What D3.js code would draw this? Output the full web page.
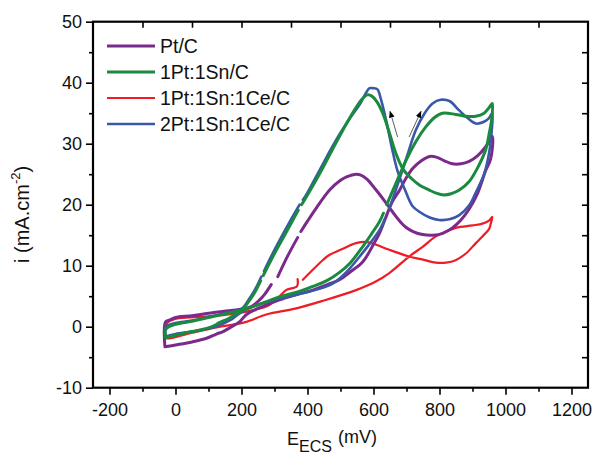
<!DOCTYPE html>
<html lang="en">
<head>
<meta charset="UTF-8">
<title>CV curves</title>
<script src="https://cdn.jsdelivr.net/npm/d3@7"></script>
<style>
  body { margin: 0; background: #fff; }
  text { font-family: Arial, "Liberation Sans", sans-serif; fill: #111; }
  .axis path { display: none; }
  .axis line { stroke: #000; stroke-width: 1.6px; }
  .axis text { font-size: 18px; }
</style>
</head>
<body>
<div id="chart"></div>
<script>
// series names + colours
var seriesNames = ["Pt/C", "1Pt:1Sn/C", "1Pt:1Sn:1Ce/C", "2Pt:1Sn:1Ce/C"];
var seriesColors = ["#7b2a8c", "#1a8a3e", "#ee1c25", "#3a58a8"];
var seriesWidths = [3, 3, 2.2, 2.6];

// each loop: [E (mV), i (mA/cm2)], null = gap in the trace
var ptC = [
  [-32,-3.3],[0,-3.0],[50,-2.5],[94,-1.9],[124,-1.2],[144,-0.8],[170,0],[194,0.8],[215,2.0],[250,3.0],
  [315,4.4],[370,5.3],[416,6.0],[460,6.9],[497,7.7],[530,9.0],[567,10.6],[600,13.5],[618,15.3],[640,18.3],
  [658,20.6],[678,22.3],[698,24.3],[720,26.0],[745,27.2],[770,27.9],[790,27.8],[815,27.2],[839,26.7],
  [865,26.7],[890,27.1],[915,28.0],[940,29.5],[960,31.2],
  [955,27.5],[940,25.6],[915,21.8],[890,19.3],[865,17.5],[839,16.2],[810,15.3],[780,15.0],[749,15.1],
  [720,15.6],[698,16.3],[678,17.4],[658,18.8],[635,20.5],[608,22.4],[580,24.2],[560,24.9],[547,25.0],[520,24.6],
  [500,24.0],[467,22.4],[426,19.4],[400,17.3],[380,15.6],null,[370,14.6],[340,11.6],[310,8.2],null,
  [290,6.9],[270,5.3],[255,4.4],[230,3.3],[200,2.9],[174,2.7],[100,2.2],[50,1.8],[0,1.5],[-17,1.1],
  [-30,0.8],[-32,-3.3]
];
var ptSnC = [
  [-30,-1.8],[0,-1.4],[50,-0.8],[100,-0.2],[125,0.4],[130,0.6],[160,1.3],[194,2.4],[250,3.6],[315,4.9],
  [370,5.7],[416,6.6],[460,7.6],[497,8.9],[530,10.5],[567,13.1],[595,15.3],[618,17.2],[630,18.6],null,
  [640,20.0],[668,23.5],[698,27.2],[730,30.5],[759,32.8],[785,34.3],[809,35.0],[849,34.8],[880,34.5],
  [910,34.5],[935,35.0],[950,35.9],[960,36.6],
  [958,34.0],[950,31.5],[940,29.0],[915,26.0],[890,23.8],[860,22.4],[835,21.8],[814,21.6],[790,21.9],
  [769,22.4],[740,23.2],[715,24.3],[690,25.8],[668,28.4],[648,31.8],[628,35.0],[610,36.9],[595,37.8],
  [582,38.0],[565,37.3],[540,35.3],[510,32.5],[476,29.1],[440,25.4],[400,21.6],[382,20.0],null,
  [372,19.1],[346,16.5],[300,12.0],[266,8.4],null,[258,7.5],[240,5.6],[220,4.0],[200,2.8],
  [150,2.1],[100,1.5],[50,0.9],[0,0.4],[-20,0],[-30,-0.5],[-30,-1.8]
];
var ptSnCeC = [
  [-30,-1.9],[-17,-1.9],[50,-1.0],[124,-0.1],[170,0.3],[215,0.8],[275,2.0],[366,3.0],[450,4.3],[547,6.0],
  [600,7.2],[648,8.8],[708,11.5],[749,13.1],[789,14.8],[849,16.2],[900,16.6],[930,16.9],[950,17.4],[960,18.0],
  [955,16.8],[950,16.0],[930,14.8],[910,13.7],[880,12.0],[849,10.9],[820,10.5],[789,10.5],[750,11.0],
  [708,11.5],[648,12.6],[600,13.6],[577,13.9],[547,13.7],[500,12.6],[467,11.8],[446,10.9],[410,9.0],
  [386,7.7],null,[370,7.8],[368,6.6],[335,6.0],[305,4.4],[275,3.3],[250,2.9],[225,2.6],[174,2.1],
  [100,1.7],[13,1.4],[-10,1.1],[-30,0.3],[-30,-1.9]
];
var pt2SnCeC = [
  [-30,-1.6],[0,-1.2],[50,-0.8],[100,-0.3],[130,0.2],[170,1.2],[200,2.4],[250,3.6],[315,4.6],[370,5.3],
  [436,6.2],[480,7.2],[517,8.9],[555,11.3],[587,13.5],[620,16.0],[634,17.6],null,[648,19.4],[670,22.8],
  [700,27.7],[728,32.2],[755,35.0],[779,36.6],[804,37.2],[830,37.0],[859,35.5],[885,34.2],[910,33.3],
  [935,33.6],[950,34.2],[960,35.0],
  [958,32.0],[950,28.4],[935,25.0],[910,22.0],[890,19.9],[860,18.3],[830,17.6],[799,17.5],[770,17.9],
  [740,18.8],[718,19.8],[695,22.5],[673,25.5],[655,29.5],[638,33.9],[622,37.4],[612,38.9],[600,39.1],
  [588,39.1],[578,38.4],[560,36.6],[530,34.3],[500,31.8],[476,29.6],[440,26.0],[396,21.6],[386,20.8],null,
  [376,20.0],[346,17.2],[300,12.6],[268,9.1],null,[260,8.2],[240,6.0],[220,4.3],[200,2.9],[150,2.2],
  [100,1.6],[50,1.0],[0,0.6],[-20,0.3],[-30,0],[-30,-1.6]
];
var seriesData = [ptC, ptSnC, ptSnCeC, pt2SnCeC];
var drawOrder = [2, 0, 3, 1];

// scan direction arrows [from, to]
var arrows = [
  [[673,31.1],[650,35.3]],
  [[708,31.1],[744,35.3]]
];

var xMajor = [-200, 0, 200, 400, 600, 800, 1000, 1200];
var xMinor = [-100, 100, 300, 500, 700, 900, 1100];
var yMajor = [-10, 0, 10, 20, 30, 40, 50];
var yMinor = [-5, 5, 15, 25, 35, 45];
var xTopTicks = [-100, 50, 200, 350, 500, 650, 800, 950, 1100];
var yRightTicks = [-5, 0, 5, 10, 15, 20, 25, 30, 35, 40, 45];

var W = 597, H = 456;
var L = 93, R = 588, T = 21.7, B = 387.7;

var svg = d3.select("#chart").append("svg")
  .attr("width", W).attr("height", H);

var x = d3.scaleLinear().domain([-250, 1250]).range([L, R]);
var y = d3.scaleLinear().domain([-10, 50]).range([B, T]);

// axes
svg.append("g").attr("class", "axis")
  .attr("transform", "translate(0," + B + ")")
  .call(d3.axisBottom(x).tickValues(xMajor).tickSize(7).tickPadding(9).tickFormat(d3.format("d")));
svg.append("g").attr("class", "axis")
  .attr("transform", "translate(0," + B + ")")
  .call(d3.axisBottom(x).tickValues(xMinor).tickSize(4).tickFormat(""));
svg.append("g").attr("class", "axis")
  .attr("transform", "translate(" + L + ",0)")
  .call(d3.axisLeft(y).tickValues(yMajor).tickSize(7).tickPadding(4).tickFormat(d3.format("d")));
svg.append("g").attr("class", "axis")
  .attr("transform", "translate(" + L + ",0)")
  .call(d3.axisLeft(y).tickValues(yMinor).tickSize(4).tickFormat(""));
svg.append("g").attr("class", "axis")
  .attr("transform", "translate(0," + T + ")")
  .call(d3.axisTop(x).tickValues(xTopTicks).tickSize(-6).tickFormat(""));
svg.append("g").attr("class", "axis")
  .attr("transform", "translate(" + R + ",0)")
  .call(d3.axisRight(y).tickValues(yRightTicks).tickSize(-6).tickFormat(""));

svg.selectAll(".axis text").text(function () {
  return this.textContent.replace("\u2212", "-");
});

// curves
var line = d3.line()
  .defined(function (d) { return d !== null; })
  .x(function (d) { return x(d[0]); })
  .y(function (d) { return y(d[1]); })
  .curve(d3.curveCatmullRom.alpha(0.5));

var curves = svg.append("g");
drawOrder.forEach(function (k) {
  curves.append("path")
    .datum(seriesData[k])
    .attr("fill", "none")
    .attr("stroke", seriesColors[k])
    .attr("stroke-width", seriesWidths[k])
    .attr("stroke-linejoin", "round")
    .attr("stroke-linecap", "round")
    .attr("d", line);
});

// frame
svg.append("rect")
  .attr("x", L).attr("y", T)
  .attr("width", R - L).attr("height", B - T)
  .attr("fill", "none").attr("stroke", "#000").attr("stroke-width", 2.2);

// arrows
svg.append("defs").append("marker")
  .attr("id", "ah").attr("viewBox", "0 0 10 10")
  .attr("refX", 9).attr("refY", 5)
  .attr("markerWidth", 7).attr("markerHeight", 7)
  .attr("markerUnits", "userSpaceOnUse")
  .attr("orient", "auto")
  .append("path").attr("d", "M0,1 L10,5 L0,9 Z").attr("fill", "#000");

svg.append("g").selectAll("line")
  .data(arrows).enter().append("line")
  .attr("x1", function (d) { return x(d[0][0]); })
  .attr("y1", function (d) { return y(d[0][1]); })
  .attr("x2", function (d) { return x(d[1][0]); })
  .attr("y2", function (d) { return y(d[1][1]); })
  .attr("stroke", "#333").attr("stroke-width", 0.8)
  .attr("marker-end", "url(#ah)");

// legend
var legend = svg.append("g").selectAll("g")
  .data(seriesNames).enter().append("g")
  .attr("transform", function (d, i) { return "translate(107," + (46 + i * 26) + ")"; });
legend.append("line")
  .attr("x1", 0).attr("x2", 48)
  .attr("stroke", function (d, i) { return seriesColors[i]; })
  .attr("stroke-width", function (d, i) { return seriesWidths[i]; });
legend.append("text")
  .attr("x", 53).attr("y", 7)
  .style("font-size", "19.5px")
  .text(function (d) { return d; });

// axis titles
var xt = svg.append("text")
  .attr("x", 287).attr("y", 445)
  .style("font-size", "18px");
xt.append("tspan").text("E");
xt.append("tspan").attr("dy", 7).style("font-size", "16px").text("ECS");
xt.append("tspan").attr("dy", -9).attr("dx", 6).text("(mV)");

var yt = svg.append("text")
  .attr("transform", "translate(29,263) rotate(-90)")
  .style("font-size", "20px");
yt.append("tspan").text("i (mA.cm");
yt.append("tspan").attr("dy", -9).style("font-size", "13px").text("-2");
yt.append("tspan").attr("dy", 9).text(")");
</script>
</body>
</html>
